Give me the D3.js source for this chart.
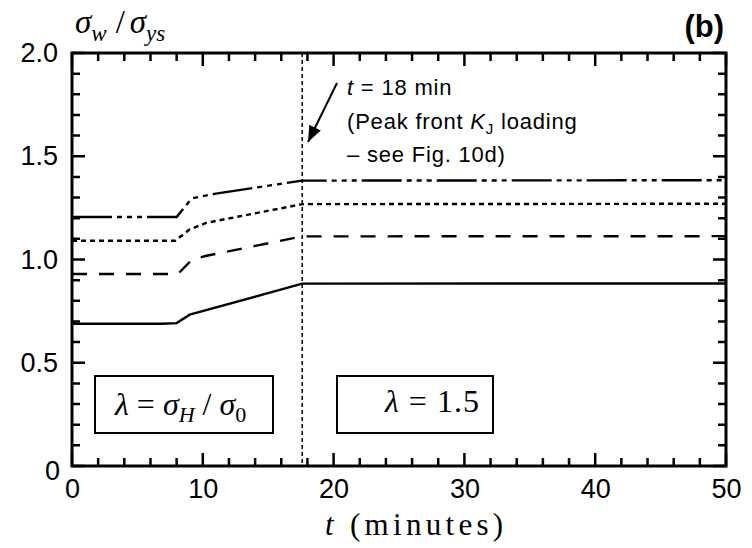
<!DOCTYPE html>
<html>
<head>
<meta charset="utf-8">
<script src="https://cdn.jsdelivr.net/npm/d3@7"></script>
<style>
  body { margin: 0; background: #fff; }
  svg { display: block; }
</style>
</head>
<body>
<div id="chart"></div>
<script>
// data (t in minutes, sigma_w / sigma_ys)
var solidT  = [0, 6.9, 8.0, 9.0, 17.6, 50];
var solidV  = [0.689, 0.689, 0.692, 0.733, 0.883, 0.884];
var dashedT = [0, 8.1, 9.15, 10.2, 17.6, 50];
var dashedV = [0.93, 0.93, 0.998, 1.017, 1.112, 1.113];
var dottedT = [0, 7.9, 9.0, 10.3, 17.6, 50];
var dottedV = [1.091, 1.091, 1.146, 1.178, 1.268, 1.27];
var dashDotT = [0, 8.0, 9.15, 10.7, 17.6, 50];
var dashDotV = [1.206, 1.206, 1.296, 1.316, 1.382, 1.384];

var peakT = 17.6;
var xMajor = [0, 10, 20, 30, 40, 50];
var yMajor = [0, 0.5, 1.0, 1.5, 2.0];

var width = 752, height = 548;
var margin = {left: 72, right: 26, top: 53, bottom: 82};

var svg = d3.select("#chart").append("svg").attr("width", width).attr("height", height);

var xScale = d3.scaleLinear().domain([0, 50]).range([margin.left, width - margin.right]);
var yScale = d3.scaleLinear().domain([0, 2]).range([height - margin.bottom, margin.top]);

var sans = "'Liberation Sans', Arial, sans-serif";
var serif = "'Liberation Serif', 'Times New Roman', serif";

var pBottom = height - margin.bottom, pTop = margin.top, pLeft = margin.left, pRight = width - margin.right;

var xTicks = d3.range(0, 51, 2);
var yTicks = d3.range(0, 21, 1).map(d => d / 10);
function tickLen(major) { return major ? 13 : 8; }

// frame
svg.append("rect")
    .attr("x", pLeft).attr("y", pTop)
    .attr("width", pRight - pLeft).attr("height", pBottom - pTop)
    .attr("fill", "none").attr("stroke", "black").attr("stroke-width", 3);

// inward ticks on all four sides, as one path
var p = d3.path();
xTicks.forEach(function(d) {
    var x = xScale(d), len = tickLen(d % 10 == 0);
    p.moveTo(x, pBottom); p.lineTo(x, pBottom - len);
    p.moveTo(x, pTop); p.lineTo(x, pTop + len);
});
yTicks.forEach(function(d) {
    var y = yScale(d), len = tickLen(Math.round(d * 10) % 5 == 0);
    p.moveTo(pLeft, y); p.lineTo(pLeft + len, y);
    p.moveTo(pRight, y); p.lineTo(pRight - len, y);
});
svg.append("path").attr("d", p.toString())
    .attr("fill", "none").attr("stroke", "black").attr("stroke-width", 2.5);

// tick labels via axes (no lines)
function styleAxis(g) {
    g.select(".domain").remove();
    g.selectAll(".tick line").remove();
    g.selectAll("text").attr("fill", "black").attr("font-family", sans).attr("font-size", "27px");
}
svg.append("g").attr("transform", "translate(0," + pBottom + ")")
    .call(d3.axisBottom(xScale).tickValues(xMajor).tickSize(0).tickPadding(13).tickFormat(d3.format("d")))
    .call(styleAxis)
    .selectAll("text").attr("dy", "0.71em");
svg.append("g").attr("transform", "translate(" + pLeft + ",0)")
    .call(d3.axisLeft(yScale).tickValues(yMajor).tickSize(0).tickPadding(14)
        .tickFormat(d => d == 0 ? "0" : d.toFixed(1)))
    .call(styleAxis)
    .selectAll("text").filter(d => d == 0).attr("dy", "0.5em").attr("x", -12);

// vertical dashed line at peak loading
svg.append("line")
    .attr("x1", xScale(peakT)).attr("x2", xScale(peakT))
    .attr("y1", yScale(2)).attr("y2", yScale(0))
    .attr("stroke", "black").attr("stroke-width", 1.5)
    .attr("stroke-dasharray", "4,3");

// series
var curveFunc = d3.line()
    .curve(d3.curveLinear)
    .x(d => xScale(d[0]))
    .y(d => yScale(d[1]));

var series = [
    {t: solidT, v: solidV, dash: null},
    {t: dashedT, v: dashedV, dash: "15,12"},
    {t: dottedT, v: dottedV, dash: "5,4"},
    {t: dashDotT, v: dashDotV, dash: "40,5,5,5,5,5,5,5"}
];
series.forEach(function(s) {
    svg.append("path")
        .attr("d", curveFunc(d3.zip(s.t, s.v)))
        .attr("fill", "none")
        .attr("stroke", "black")
        .attr("stroke-width", 2.4)
        .attr("stroke-dasharray", s.dash);
});

// y axis title  sigma_w / sigma_ys
var ylab = svg.append("text").attr("x", 75).attr("y", 33)
    .attr("font-family", serif).attr("font-size", "33px").attr("fill", "black");
ylab.append("tspan").attr("font-style", "italic").text("σ");
ylab.append("tspan").attr("font-style", "italic").attr("font-size", "23px").attr("dy", 8).text("w");
ylab.append("tspan").attr("dy", -8).attr("dx", 9).text("/");
ylab.append("tspan").attr("font-style", "italic").attr("dx", 5).text("σ");
ylab.append("tspan").attr("font-style", "italic").attr("font-size", "23px").attr("dy", 8).text("ys");

// panel label
svg.append("text").attr("x", 724).attr("y", 37).attr("text-anchor", "end")
    .attr("font-family", sans).attr("font-weight", "bold").attr("font-size", "31px").text("(b)");

// x axis title
var xlab = svg.append("text").attr("x", 325).attr("y", 535)
    .attr("font-family", serif).attr("font-size", "31px").attr("letter-spacing", "4.3px").attr("fill", "black");
xlab.append("tspan").attr("font-style", "italic").text("t");
xlab.append("tspan").text(" (minutes)");

// annotation arrow
svg.append("defs").append("marker")
    .attr("id", "arrow").attr("viewBox", "0 0 10 10")
    .attr("refX", 10).attr("refY", 5)
    .attr("markerWidth", 16).attr("markerHeight", 16)
    .attr("markerUnits", "userSpaceOnUse")
    .attr("orient", "auto")
    .append("path").attr("d", "M0,1 L10,5 L0,9 Z").attr("fill", "black");
svg.append("line")
    .attr("x1", 337).attr("y1", 83).attr("x2", 308).attr("y2", 142)
    .attr("stroke", "black").attr("stroke-width", 2)
    .attr("marker-end", "url(#arrow)");

var ann = svg.append("g").attr("font-family", sans).attr("font-size", "22px")
    .attr("letter-spacing", "0.8px").attr("fill", "black");
var a1 = ann.append("text").attr("x", 347).attr("y", 95);
a1.append("tspan").attr("font-style", "italic").text("t");
a1.append("tspan").text(" = 18 min");
var a2 = ann.append("text").attr("x", 347).attr("y", 129);
a2.append("tspan").text("(Peak front ");
a2.append("tspan").attr("font-style", "italic").text("K");
a2.append("tspan").attr("font-size", "15px").attr("dy", 5).text("J");
a2.append("tspan").attr("dy", -5).text(" loading");
ann.append("text").attr("x", 347).attr("y", 162).text("– see Fig. 10d)");

// legend boxes
svg.append("rect").attr("x", 95).attr("y", 376).attr("width", 178).attr("height", 57)
    .attr("fill", "white").attr("stroke", "black").attr("stroke-width", 2);
svg.append("rect").attr("x", 337).attr("y", 376).attr("width", 156).attr("height", 57)
    .attr("fill", "white").attr("stroke", "black").attr("stroke-width", 2);

var l1 = svg.append("text").attr("x", 115).attr("y", 415)
    .attr("font-family", serif).attr("font-size", "32px").attr("fill", "black");
l1.append("tspan").attr("font-style", "italic").text("λ");
l1.append("tspan").text(" = ");
l1.append("tspan").attr("font-style", "italic").text("σ");
l1.append("tspan").attr("font-style", "italic").attr("font-size", "22px").attr("dy", 7).text("H");
l1.append("tspan").attr("dy", -7).text(" / ");
l1.append("tspan").attr("font-style", "italic").text("σ");
l1.append("tspan").attr("font-size", "22px").attr("dy", 7).text("0");

var l2 = svg.append("text").attr("x", 385).attr("y", 412)
    .attr("font-family", serif).attr("font-size", "32px").attr("letter-spacing", "1px").attr("fill", "black");
l2.append("tspan").attr("font-style", "italic").text("λ");
l2.append("tspan").text(" = 1.5");
</script>
</body>
</html>
